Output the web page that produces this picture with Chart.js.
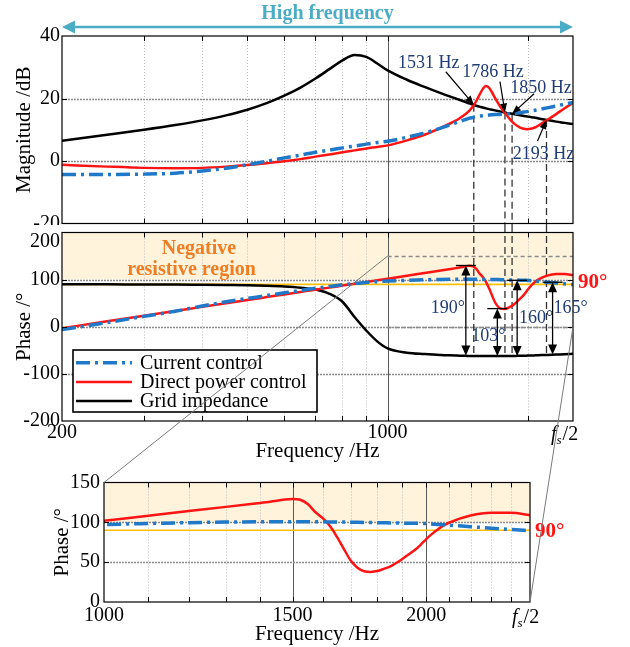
<!DOCTYPE html>
<html>
<head>
<meta charset="utf-8">
<title>Bode comparison</title>
<script src="https://cdn.jsdelivr.net/npm/chart.js@4.4.1/dist/chart.umd.min.js"></script>
<style>
  html, body { margin:0; padding:0; background:#ffffff; }
  #wrap { position:relative; width:630px; height:647px; overflow:hidden; background:#fff; }
  #wrap canvas { position:absolute; left:0; }
</style>
</head>
<body>
<div id="wrap">
  <canvas id="cA" width="630" height="225" style="top:0px"></canvas>
  <canvas id="cB" width="630" height="239" style="top:225px"></canvas>
  <canvas id="cC" width="630" height="187" style="top:460px"></canvas>
  <canvas id="ov" width="630" height="647" style="top:0px;pointer-events:none"></canvas>
</div>
<script>
// ================= DATA =================
const freq = [200,250,300,350,400,450,500,550,600,650,700,750,800,850,900,950,1000,
  1100,1200,1300,
  1400,1425,1450,1475,1500,1525,1550,1575,1600,1625,1650,1675,1700,1725,1750,1775,1800,1825,1850,1875,1900,1925,1950,1975,2000,2025,2050,2075,2100,
  2200,2300,2400,2500];

const magCurrent = [-4.3,-4.3,-4.2,-3.9,-3.2,-2.3,-1.2,-0.1,1.0,1.9,2.8,3.5,4.2,4.8,5.4,5.9,6.3,
  7.6,9.0,10.5,
  12.2,12.6,13.0,13.35,13.7,13.95,14.2,14.35,14.5,14.6,14.7,14.78,14.85,14.9,14.95,15.0,15.05,15.1,15.15,15.25,15.35,15.47,15.6,15.72,15.85,15.98,16.12,16.26,16.4,
  17.0,17.6,18.2,18.7];
const magDPC = [-1.2,-1.8,-2.2,-2.3,-2.2,-1.8,-1.3,-0.7,-0.1,0.6,1.4,2.1,2.8,3.4,4.0,4.5,5.0,
  6.6,8.4,10.6,
  12.9,13.6,14.4,15.2,16.2,17.5,19.2,21.2,23.0,24.0,23.5,22.0,20.2,18.6,17.1,15.9,14.8,13.6,12.6,11.8,11.2,10.7,10.4,10.25,10.2,10.3,10.5,10.8,11.2,
  13.1,15.0,16.9,18.6];
const magGrid = [6.5,8.4,10.0,11.5,13.0,14.6,16.4,18.5,20.9,23.5,26.4,29.4,32.2,33.9,33.3,31.2,29.0,
  26.0,23.7,21.7,
  20.0,19.6,19.2,18.8,18.4,18.05,17.7,17.4,17.1,16.85,16.6,16.4,16.2,16.0,15.8,15.6,15.4,15.25,15.1,14.95,14.8,14.65,14.5,14.35,14.2,14.08,13.95,13.83,13.7,
  13.1,12.6,12.2,11.8];

const phaseCurrent = [-6,9,22,33,44,53,60,66,72,77,81.5,85.5,89,92,94,95.7,97,
  98.5,99.6,100.3,
  100.7,100.75,100.8,100.8,100.8,100.75,100.7,100.65,100.6,100.5,100.4,100.3,100.2,100.05,99.9,99.75,99.6,99.45,99.3,99.15,99.0,98.9,98.8,98.6,98.4,97.9,97.4,97.0,96.5,
  94.5,92.7,91.1,89.5];
const phaseDPC = [-3,11.5,23.4,33.5,42.2,50,56.7,62.9,68.6,73.8,78.6,83,87.3,91.3,95,98.6,102,
  108.3,114.1,119.4,
  124.4,125.6,127.0,128.6,129.4,128.3,123,113,105.5,95.6,82,66.8,52,43,38.5,37.8,38.8,41.5,44.5,49,54,59.5,65,71.5,79,85.5,91,95.8,99.5,
  108.5,112,112,109];
const phaseGrid = [90,90,89.5,89.5,89,88.5,88,87,85.5,83,79,70,53,20,-8,-31,-46,
  -55,-58,-60,
  -61,-61.3,-61.5,-61.8,-62,-62,-62,-62.1,-62.2,-62.25,-62.3,-62.3,-62.3,-62.3,-62.3,-62.25,-62.2,-62.1,-62,-61.9,-61.8,-61.65,-61.5,-61.35,-61.2,-61.0,-60.9,-60.7,-60.5,
  -59.8,-59,-58.3,-57.5];

const seriesNames = ['Current control', 'Direct power control', 'Grid impedance'];

const xTicksMain  = [200,300,400,500,600,700,800,900,1000,2000,2500];
const xLabelsMain = {200:'200', 1000:'1000'};
const xTicksZoom  = [1000,1100,1200,1300,1400,1500,1600,1700,1800,1900,2000,2100,2200,2300,2400,2500];
const xLabelsZoom = {1000:'1000', 1500:'1500', 2000:'2000'};
const fsLabel     = ['f', 's', '/2'];
const magTicks    = [-20, 0, 20, 40];
const phaseTicks  = [-200, -100, 0, 100, 200];
const zoomTicks   = [0, 50, 100, 150];

const crossFreqs  = [1531, 1786, 1850, 2193];
const crossMags   = [18.0, 15.5, 15.1, 13.1];
const crossPhaseEnd = [-62, -62.6, -62.5, -59.8];
const crossLabels = ['1531 Hz', '1786 Hz', '1850 Hz', '2193 Hz'];

const gapFreqs    = [1472, 1720, 1897, 2260];
const gapTop      = [130, 38.5, 98.5, 94.5];
const gapBottom   = [-61, -62, -62, -59];
const gapLabels   = ['190°', '103°', '160°', '165°'];

const regionLabel = ['Negative', 'resistive region'];
const regionBand  = [100, 200];
const zoomBand    = [100, 150];
const zoomBox     = {f0:1000, f1:2500, p0:0, p1:150};
const refPhase    = 90;
const refLabel    = '90°';
const topLabel    = 'High frequency';

// ================= STYLE =================
const FONT = "'Liberation Serif','Times New Roman',serif";
const BLUE='#1f78c8', RED='#ff1414', BLACK='#000000', NAVY='#1f3c78', TEAL='#4bacc6',
      ORANGE='#ef7d22', SHADE='#fff3dc', YEL='#ffbf00';
const DASHDOT = [14,5,3,5];
Chart.defaults.font.family = FONT;
Chart.defaults.color = '#000';

function pts(ys){ return freq.map((f,i)=>({x:f, y:ys[i]})); }
function lineDs(label, data, color, dash, width){
  return {label, data, borderColor:color, backgroundColor:color, borderWidth:width,
          borderDash:dash, pointRadius:0, cubicInterpolationMode:'monotone', fill:false};
}
function arrowHead(ctx, x, y, dx, dy, len, half){
  const n = Math.hypot(dx,dy); dx/=n; dy/=n;
  const bx = x - dx*len, by = y - dy*len;
  ctx.beginPath(); ctx.moveTo(x,y);
  ctx.lineTo(bx - dy*half, by + dx*half);
  ctx.lineTo(bx + dy*half, by - dx*half);
  ctx.closePath(); ctx.fill();
}
function drawFs(ctx, xLeft, yMid){
  ctx.save(); ctx.fillStyle='#000'; ctx.textAlign='left'; ctx.textBaseline='alphabetic';
  const base = yMid + 7;
  ctx.font = 'italic 20px '+FONT; const wf = ctx.measureText(fsLabel[0]).width;
  ctx.fillText(fsLabel[0], xLeft, base);
  ctx.font = 'italic 13px '+FONT; const ws = ctx.measureText(fsLabel[1]).width;
  ctx.fillText(fsLabel[1], xLeft+wf, base+4);
  ctx.font = '20px '+FONT;
  ctx.fillText(fsLabel[2], xLeft+wf+ws+1, base);
  ctx.restore();
}

function baseOptions(o){
  return {
    responsive:false, animation:false, events:[],
    layout:{padding:{left:0, right:o.padR, top:o.padT, bottom:0}},
    plugins:{legend:{display:false}, tooltip:{enabled:false}},
    scales:{
      x:{type:'logarithmic', bounds:'data', min:o.xMin, max:o.xMax,
         afterBuildTicks:s=>{ s.ticks = o.xTicks.map(v=>({value:v})); },
         grid:{display:false, drawTicks:false}, border:{display:false},
         ticks:{display:o.xShow, autoSkip:false, maxRotation:0, minRotation:0, padding:o.xPad,
                font:{size:20}, callback:v=>(o.xLabels[v] ?? '')},
         title:{display:!!o.xTitle, text:o.xTitle||'', font:{size:21}, padding:{top:0,bottom:0}},
         afterFit:s=>{ s.height=o.xH; s.paddingLeft=0; s.paddingRight=0; }},
      y:{type:'linear', min:o.yMin, max:o.yMax,
         afterBuildTicks:s=>{ s.ticks = o.yTicks.map(v=>({value:v})); },
         grid:{display:false, drawTicks:false}, border:{display:false},
         ticks:{padding:o.yPad, font:{size:20}, callback:o.yCb || (v=>String(v))},
         title:{display:true, text:o.yTitle, font:{size:21}, padding:{top:o.yTitlePad,bottom:0}},
         afterFit:s=>{ s.width=o.yW; s.paddingTop=0; s.paddingBottom=0; }}
    }
  };
}

function makeFrame(o){
  return {
    id:'frame_'+o.name,
    beforeDatasetsDraw(chart){
      const {ctx, chartArea:a, scales:{x,y}} = chart;
      ctx.save();
      if (o.shade){
        const yt=y.getPixelForValue(o.shade[1]), yb=y.getPixelForValue(o.shade[0]);
        ctx.fillStyle=SHADE; ctx.fillRect(a.left, yt, a.right-a.left, yb-yt);
      }
      x.ticks.forEach(t=>{
        const v=t.value; if (v<=x.min || v>=x.max) return;
        const px=Math.round(x.getPixelForValue(v))+0.5;
        if (o.majorX.includes(v)){ ctx.strokeStyle='#5a5a5a'; ctx.lineWidth=1; ctx.setLineDash([]); }
        else { ctx.strokeStyle='#bdbdbd'; ctx.lineWidth=1; ctx.setLineDash([1,2]); }
        ctx.beginPath(); ctx.moveTo(px,a.top); ctx.lineTo(px,a.bottom); ctx.stroke();
      });
      y.ticks.forEach(t=>{
        const v=t.value; if (v<=y.min || v>=y.max) return;
        const py=Math.round(y.getPixelForValue(v))+0.5;
        ctx.strokeStyle='#8c8c8c'; ctx.lineWidth=1.6; ctx.setLineDash([2,1]);
        ctx.beginPath(); ctx.moveTo(a.left,py); ctx.lineTo(a.right,py); ctx.stroke();
      });
      ctx.setLineDash([]);
      if (o.before) o.before(chart, ctx, a, x, y);
      ctx.restore();
    },
    afterDatasetsDraw(chart){
      const {ctx, chartArea:a, scales:{x,y}} = chart;
      ctx.save();
      ctx.strokeStyle='#000'; ctx.lineWidth=1.2; ctx.setLineDash([]);
      ctx.strokeRect(a.left, a.top, a.right-a.left, a.bottom-a.top);
      ctx.lineWidth=1;
      x.ticks.forEach(t=>{
        const v=t.value; if (v<=x.min || v>=x.max) return;
        const px=Math.round(x.getPixelForValue(v))+0.5;
        ctx.beginPath(); ctx.moveTo(px,a.top); ctx.lineTo(px,a.top+5);
        ctx.moveTo(px,a.bottom); ctx.lineTo(px,a.bottom-5); ctx.stroke();
      });
      y.ticks.forEach(t=>{
        const v=t.value; if (v<=y.min || v>=y.max) return;
        const py=Math.round(y.getPixelForValue(v))+0.5;
        ctx.beginPath(); ctx.moveTo(a.left,py); ctx.lineTo(a.left+5,py);
        ctx.moveTo(a.right,py); ctx.lineTo(a.right-5,py); ctx.stroke();
      });
      if (o.after) o.after(chart, ctx, a, x, y);
      ctx.restore();
    }
  };
}

// ================= CHART A : magnitude =================
const hzTextOff = [[-45,-41],[-12,-40],[29,-26],[-3,34]];
const hzTailOff = [[-28,-33],[-5,-31],[22,-20],[-9,21]];
const chartA = new Chart(document.getElementById('cA'), {
  type:'line',
  data:{datasets:[
    lineDs(seriesNames[0], pts(magCurrent), BLUE, DASHDOT, 3.5),
    lineDs(seriesNames[1], pts(magDPC), RED, [], 2.5),
    lineDs(seriesNames[2], pts(magGrid), BLACK, [], 2.5)
  ]},
  options: baseOptions({padR:57, padT:36, xMin:200, xMax:2500, xTicks:xTicksMain, xLabels:xLabelsMain,
    xShow:false, xPad:0, xH:1.5, xTitle:null, yMin:-20, yMax:40, yTicks:magTicks, yPad:2,
    yTitle:'Magnitude /dB', yTitlePad:11.4, yW:62}),
  plugins:[makeFrame({name:'A', majorX:[1000],
    before(chart, ctx, a, x, y){
      ctx.strokeStyle='#333'; ctx.lineWidth=1.3; ctx.setLineDash([7,4]);
      crossFreqs.forEach((f,i)=>{
        const px=x.getPixelForValue(f), py=y.getPixelForValue(crossMags[i]);
        ctx.beginPath(); ctx.moveTo(px,py); ctx.lineTo(px,chart.height); ctx.stroke();
      });
      ctx.setLineDash([]);
    },
    after(chart, ctx, a, x, y){
      const ay = a.top - 9;
      ctx.strokeStyle=TEAL; ctx.fillStyle=TEAL; ctx.lineWidth=2.5;
      ctx.beginPath(); ctx.moveTo(a.left+10, ay); ctx.lineTo(a.right-10, ay); ctx.stroke();
      arrowHead(ctx, a.left, ay, -1, 0, 13, 6.5);
      arrowHead(ctx, a.right, ay, 1, 0, 13, 6.5);
      ctx.font='bold 20px '+FONT; ctx.textAlign='center'; ctx.textBaseline='middle';
      ctx.fillText(topLabel, (a.left+a.right)/2 + 10, 14);
      ctx.font='18px '+FONT;
      crossFreqs.forEach((f,i)=>{
        const px=x.getPixelForValue(f), py=y.getPixelForValue(crossMags[i]);
        ctx.fillStyle=NAVY;
        ctx.fillText(crossLabels[i], px+hzTextOff[i][0], py+hzTextOff[i][1]);
        const tx=px+hzTailOff[i][0], ty=py+hzTailOff[i][1];
        ctx.strokeStyle='#000'; ctx.fillStyle='#000'; ctx.lineWidth=1.2;
        const dx=px-tx, dy=py-ty, n=Math.hypot(dx,dy);
        ctx.beginPath(); ctx.moveTo(tx,ty); ctx.lineTo(px-dx/n*7, py-dy/n*7); ctx.stroke();
        arrowHead(ctx, px, py, dx, dy, 9, 3.5);
      });
    }
  })]
});

// ================= CHART B : phase =================
const gapLabelDx = [-18,-9,19,18];
const gapLabelPh = [40,-21,19,40];
const chartB = new Chart(document.getElementById('cB'), {
  type:'line',
  data:{datasets:[
    lineDs(seriesNames[0], pts(phaseCurrent), BLUE, DASHDOT, 3.5),
    lineDs(seriesNames[1], pts(phaseDPC), RED, [], 2.5),
    lineDs(seriesNames[2], pts(phaseGrid), BLACK, [], 2.5)
  ]},
  options: baseOptions({padR:57, padT:7.5, xMin:200, xMax:2500, xTicks:xTicksMain, xLabels:xLabelsMain,
    xShow:true, xPad:0, xH:43, xTitle:'Frequency /Hz', yMin:-200, yMax:200, yTicks:phaseTicks, yPad:2,
    yTitle:'Phase /°', yTitlePad:11.4, yW:62, yCb:v=>(v===200?'':String(v))}),
  plugins:[makeFrame({name:'B', majorX:[1000], shade:regionBand,
    before(chart, ctx, a, x, y){
      ctx.strokeStyle='#8a8a8a'; ctx.lineWidth=1.5; ctx.setLineDash([4,3]);
      const bx0=x.getPixelForValue(zoomBox.f0), bx1=x.getPixelForValue(zoomBox.f1);
      [zoomBox.p1, zoomBox.p0].forEach(p=>{
        const py=Math.round(y.getPixelForValue(p))+0.5;
        ctx.beginPath(); ctx.moveTo(bx0,py); ctx.lineTo(bx1,py); ctx.stroke();
      });
      ctx.setLineDash([]); ctx.strokeStyle=YEL; ctx.lineWidth=1.6;
      const ry=y.getPixelForValue(refPhase);
      ctx.beginPath(); ctx.moveTo(a.left,ry); ctx.lineTo(a.right,ry); ctx.stroke();
      ctx.strokeStyle='#333'; ctx.lineWidth=1.3; ctx.setLineDash([7,4]);
      crossFreqs.forEach((f,i)=>{
        const px=x.getPixelForValue(f);
        ctx.beginPath(); ctx.moveTo(px,0); ctx.lineTo(px,y.getPixelForValue(crossPhaseEnd[i])); ctx.stroke();
      });
      ctx.setLineDash([]);
    },
    after(chart, ctx, a, x, y){
      ctx.fillStyle=ORANGE; ctx.font='bold 20px '+FONT; ctx.textAlign='center'; ctx.textBaseline='middle';
      ctx.fillText(regionLabel[0], a.left+137, a.top+16);
      ctx.fillText(regionLabel[1], a.left+129.5, a.top+37);
      ctx.fillStyle=RED; ctx.font='bold 21px '+FONT; ctx.textAlign='left';
      ctx.fillText(refLabel, a.right+5, y.getPixelForValue(refPhase)-2);
      ctx.strokeStyle='#000'; ctx.lineWidth=1.3;
      gapFreqs.forEach((f,i)=>{
        const px=x.getPixelForValue(f), yt=y.getPixelForValue(gapTop[i]), yb=y.getPixelForValue(gapBottom[i]);
        ctx.fillStyle='#000';
        ctx.beginPath(); ctx.moveTo(px, yt+8); ctx.lineTo(px, yb-8); ctx.stroke();
        ctx.beginPath(); ctx.moveTo(px-10, yt); ctx.lineTo(px+10, yt); ctx.stroke();
        arrowHead(ctx, px, yt, 0, -1, 10, 4.5);
        arrowHead(ctx, px, yb, 0, 1, 10, 4.5);
        ctx.fillStyle=NAVY; ctx.font='18px '+FONT; ctx.textAlign='center';
        ctx.fillText(gapLabels[i], px+gapLabelDx[i], y.getPixelForValue(gapLabelPh[i]));
      });
      ctx.fillStyle='#000'; ctx.font='20px '+FONT; ctx.textAlign='right'; ctx.textBaseline='middle';
      ctx.fillText(String(phaseTicks[phaseTicks.length-1]), a.left-2, y.getPixelForValue(200)+9);
      drawFs(ctx, x.getPixelForValue(2500)-22, a.bottom+12);
      const lx=a.left+11, ly=a.top+117.5, lw=244, lh=62;
      ctx.fillStyle='#fff'; ctx.fillRect(lx,ly,lw,lh);
      ctx.strokeStyle='#000'; ctx.lineWidth=1.6; ctx.strokeRect(lx,ly,lw,lh);
      chart.data.datasets.forEach((ds,i)=>{
        const ry=ly+12.7+i*19.2;
        ctx.strokeStyle=ds.borderColor; ctx.lineWidth=ds.borderWidth; ctx.setLineDash(ds.borderDash);
        ctx.beginPath(); ctx.moveTo(lx+3,ry); ctx.lineTo(lx+59,ry); ctx.stroke();
        ctx.setLineDash([]);
        ctx.fillStyle='#000'; ctx.font='20px '+FONT; ctx.textAlign='left'; ctx.textBaseline='middle';
        ctx.fillText(ds.label, lx+67, ry+1);
      });
    }
  })]
});

// ================= CHART C : zoomed phase =================
const chartC = new Chart(document.getElementById('cC'), {
  type:'line',
  data:{datasets:[
    lineDs(seriesNames[0], pts(phaseCurrent), BLUE, DASHDOT, 3.5),
    lineDs(seriesNames[1], pts(phaseDPC), RED, [], 2.5)
  ]},
  options: baseOptions({padR:100, padT:22.5, xMin:1000, xMax:2500, xTicks:xTicksZoom, xLabels:xLabelsZoom,
    xShow:true, xPad:2, xH:45, xTitle:'Frequency /Hz', yMin:0, yMax:150, yTicks:zoomTicks, yPad:4,
    yTitle:'Phase /°', yTitlePad:49.4, yW:104}),
  plugins:[makeFrame({name:'C', majorX:[1500,2000], shade:zoomBand,
    before(chart, ctx, a, x, y){
      ctx.strokeStyle=YEL; ctx.lineWidth=1.6;
      const ry=y.getPixelForValue(refPhase);
      ctx.beginPath(); ctx.moveTo(a.left,ry); ctx.lineTo(a.right,ry); ctx.stroke();
    },
    after(chart, ctx, a, x, y){
      ctx.fillStyle=RED; ctx.font='bold 21px '+FONT; ctx.textAlign='left'; ctx.textBaseline='middle';
      ctx.fillText(refLabel, a.right+5, y.getPixelForValue(refPhase)+1);
      drawFs(ctx, x.getPixelForValue(2500)-18, a.bottom+14);
    }
  })]
});

// ================= OVERLAY : zoom connectors =================
(function(){
  const ctx = document.getElementById('ov').getContext('2d');
  const offB = 225, offC = 460;
  const bx=chartB.scales.x, by=chartB.scales.y, cx=chartC.scales.x, cy=chartC.scales.y;
  ctx.strokeStyle='#7a7a7a'; ctx.lineWidth=1;
  ctx.beginPath();
  ctx.moveTo(bx.getPixelForValue(zoomBox.f0), offB+by.getPixelForValue(zoomBox.p1));
  ctx.lineTo(cx.getPixelForValue(zoomBox.f0), offC+cy.getPixelForValue(zoomBox.p1));
  ctx.moveTo(bx.getPixelForValue(zoomBox.f1), offB+by.getPixelForValue(zoomBox.p0));
  ctx.lineTo(cx.getPixelForValue(zoomBox.f1), offC+cy.getPixelForValue(zoomBox.p0));
  ctx.stroke();
})();
</script>
</body>
</html>
